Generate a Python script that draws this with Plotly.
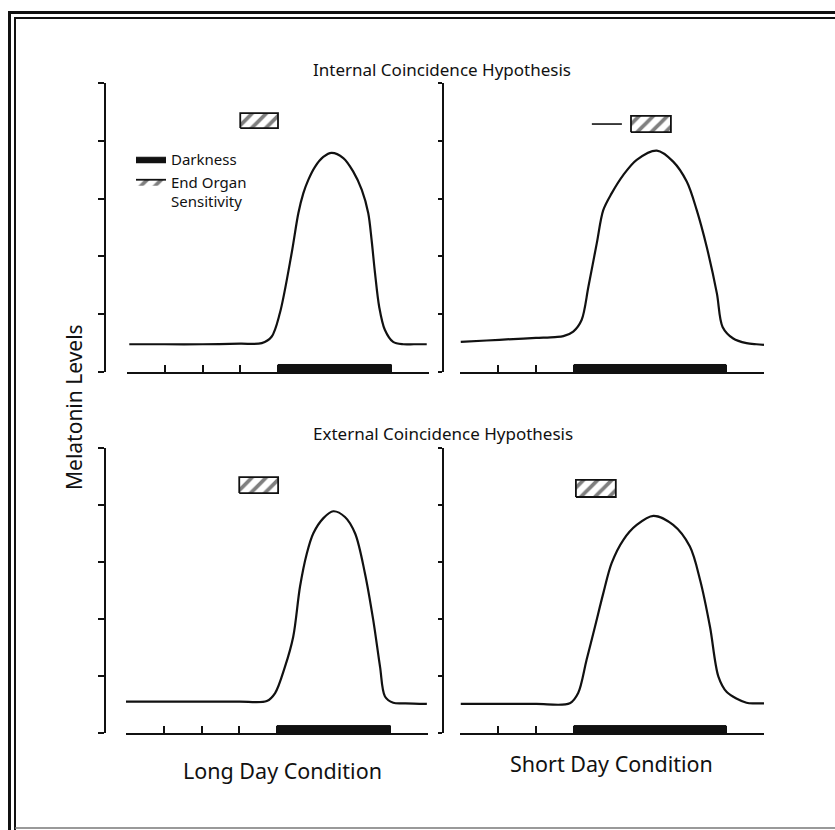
import plotly.graph_objects as go

W, H = 835, 830

# ---------------- data ----------------
time_ticks = [0, 1, 2, 3, 4, 5, 6, 7, 8]
level_ticks = [0, 1, 2, 3, 4, 5]

# Internal coincidence, long day
int_long_x = [0.06, 1.0, 2.0, 3.0, 3.57, 3.83, 4.05, 4.36, 4.54, 4.67, 4.80, 4.98, 5.20, 5.42,
              5.73, 5.99, 6.22, 6.39, 6.48, 6.57, 6.68, 6.83, 7.05, 7.32, 7.60, 7.94]
int_long_y = [0.48, 0.48, 0.48, 0.49, 0.50, 0.61, 1.02, 2.05, 2.75, 3.09, 3.32, 3.55, 3.72, 3.79,
              3.70, 3.47, 3.15, 2.75, 2.28, 1.71, 1.13, 0.73, 0.52, 0.48, 0.48, 0.48]

# Internal coincidence, short day
int_short_x = [0.02, 0.7, 1.40, 2.0, 2.5, 2.72, 2.98, 3.20, 3.38, 3.60, 3.77, 3.99, 4.30, 4.65,
               5.18, 5.61, 5.97, 6.23, 6.49, 6.76, 6.91, 7.19, 7.54, 7.80, 8.00]
int_short_y = [0.52, 0.545, 0.57, 0.59, 0.605, 0.62, 0.70, 0.90, 1.48, 2.23, 2.80, 3.09, 3.41, 3.67,
               3.83, 3.64, 3.29, 2.80, 2.17, 1.36, 0.78, 0.58, 0.50, 0.48, 0.47]

# External coincidence, long day
ext_long_x = [0.00, 1.0, 2.0, 3.0, 3.73, 3.95, 4.21, 4.43, 4.61, 4.79, 4.96, 5.23, 5.49, 5.80,
              6.07, 6.33, 6.55, 6.73, 6.86, 7.08, 7.40, 7.97]
ext_long_y = [0.55, 0.55, 0.55, 0.55, 0.56, 0.70, 1.16, 1.69, 2.57, 3.15, 3.50, 3.77, 3.89, 3.79,
              3.50, 2.80, 1.98, 1.16, 0.64, 0.53, 0.52, 0.51]

# External coincidence, short day
ext_short_x = [0.02, 1.0, 2.0, 2.89, 3.11, 3.33, 3.55, 3.77, 3.99, 4.30, 4.65, 5.09, 5.61,
               6.05, 6.32, 6.58, 6.80, 7.02, 7.54, 7.80, 8.00]
ext_short_y = [0.51, 0.51, 0.51, 0.52, 0.70, 1.28, 1.86, 2.45, 2.98, 3.39, 3.65, 3.81, 3.65,
               3.27, 2.68, 1.86, 0.99, 0.72, 0.53, 0.52, 0.52]

# Darkness periods (start, end)
dark_long = [4.0, 7.0]
dark_short = [3.0, 7.0]

# End organ sensitivity windows (x start, x end) and (level low, level high)
sens_int_long_x = [3.0, 4.0]
sens_int_long_y = [4.22, 4.48]
sens_int_short_x = [4.5, 5.55]
sens_int_short_y = [4.15, 4.43]
sens_int_short_dash_x = [3.47, 4.26]
sens_int_short_dash_y = [4.29, 4.29]
sens_ext_long_x = [3.0, 4.03]
sens_ext_long_y = [4.21, 4.49]
sens_ext_short_x = [3.05, 4.1]
sens_ext_short_y = [4.14, 4.44]

# ---------------- styling / layout ----------------
FONT = "Noto Sans"
INK = "#111111"
BAR_H = 0.13

def px(x):
    return x / W

def py(y):
    return 1 - y / H

panels = [
    dict(xa="x", ya="y", yo="y2", xd=(127, 429), yd=(83, 372), lpos=105, rpos=442, lticks=6, rticks=4),
    dict(xa="x2", ya="y3", yo="y4", xd=(460, 764), yd=(83, 372), lpos=443, rpos=782, lticks=4, rticks=6),
    dict(xa="x3", ya="y5", yo="y6", xd=(126, 428), yd=(448, 733), lpos=105, rpos=442, lticks=6, rticks=4),
    dict(xa="x4", ya="y7", yo="y8", xd=(460, 764), yd=(448, 733), lpos=443, rpos=783, lticks=4, rticks=6),
]

fig = go.Figure()

def key(axid, kind):
    n = axid[1:]
    return ("xaxis" if kind == "x" else "yaxis") + n

layout_axes = {}
for p in panels:
    xk = key(p["xa"], "x")
    yk = key(p["ya"], "y")
    ok = key(p["yo"], "y")
    layout_axes[xk] = dict(
        domain=[px(p["xd"][0]), px(p["xd"][1])], range=[0, 8], anchor=p["ya"],
        tickvals=time_ticks, ticks="inside", ticklen=7, tickwidth=1.5, tickcolor=INK,
        showticklabels=False, showline=True, linewidth=2, linecolor=INK,
        showgrid=False, zeroline=False, fixedrange=True)
    common_y = dict(range=[0, 5], tickvals=level_ticks, ticks="outside", tickwidth=2,
                    tickcolor=INK, showticklabels=False, showline=True, linewidth=2,
                    linecolor=INK, showgrid=False, zeroline=False, fixedrange=True)
    layout_axes[yk] = dict(common_y, domain=[py(p["yd"][1]), py(p["yd"][0])],
                           anchor="free", position=px(p["lpos"]), side="left",
                           ticklen=p["lticks"])
    layout_axes[ok] = dict(common_y, overlaying=p["ya"], anchor="free",
                           position=px(p["rpos"]), side="right", ticklen=p["rticks"])

curves = [
    (int_long_x, int_long_y, dark_long, sens_int_long_x, sens_int_long_y),
    (int_short_x, int_short_y, dark_short, sens_int_short_x, sens_int_short_y),
    (ext_long_x, ext_long_y, dark_long, sens_ext_long_x, sens_ext_long_y),
    (ext_short_x, ext_short_y, dark_short, sens_ext_short_x, sens_ext_short_y),
]

for i, (p, (cx, cy, dk, sx, sy)) in enumerate(zip(panels, curves)):
    first = i == 0
    # darkness bar
    fig.add_trace(go.Scatter(
        x=[dk[0], dk[1], dk[1], dk[0], dk[0]], y=[0, 0, BAR_H, BAR_H, 0],
        xaxis=p["xa"], yaxis=p["ya"], mode="lines", fill="toself",
        fillcolor=INK, line=dict(color=INK, width=1),
        name="Darkness", legendgroup="dark", showlegend=first, hoverinfo="skip"))
    # sensitivity box (hatched)
    fig.add_trace(go.Scatter(
        x=[sx[0], sx[1], sx[1], sx[0], sx[0]], y=[sy[0], sy[0], sy[1], sy[1], sy[0]],
        xaxis=p["xa"], yaxis=p["ya"], mode="lines", fill="toself",
        fillcolor="white",
        fillpattern=dict(shape="/", fgcolor="black", bgcolor="white", size=10, solidity=0.38),
        line=dict(color=INK, width=1.8),
        name="End Organ<br>Sensitivity", legendgroup="sens", showlegend=first,
        hoverinfo="skip"))
    # melatonin curve
    fig.add_trace(go.Scatter(
        x=cx, y=cy, xaxis=p["xa"], yaxis=p["ya"], mode="lines",
        line=dict(color=INK, width=2.2, shape="spline", smoothing=0.9),
        showlegend=False, hoverinfo="skip"))

# short dash preceding the sensitivity window (internal / short day)
fig.add_trace(go.Scatter(
    x=sens_int_short_dash_x, y=sens_int_short_dash_y, xaxis="x2", yaxis="y3",
    mode="lines", line=dict(color=INK, width=1.6), showlegend=False, hoverinfo="skip"))

# frame lines (paper coords)
def hline(y, x0, x1, w, c=INK):
    return dict(type="line", xref="paper", yref="paper", x0=px(x0), x1=px(x1),
                y0=py(y), y1=py(y), line=dict(color=c, width=w))

def vline(x, y0, y1, w, c=INK):
    return dict(type="line", xref="paper", yref="paper", x0=px(x), x1=px(x),
                y0=py(y0), y1=py(y1), line=dict(color=c, width=w))

shapes = [
    hline(12.5, 8, 835, 3),
    hline(18, 14, 835, 2),
    vline(9.5, 11, 830, 3),
    vline(15, 17, 830, 2),
    hline(828, 15, 835, 1.5, "#777777"),
]

annotations = [
    dict(text="Internal Coincidence Hypothesis", x=px(442), y=py(69), xref="paper",
         yref="paper", showarrow=False, font=dict(size=17, family=FONT, color=INK),
         xanchor="center", yanchor="middle"),
    dict(text="External Coincidence Hypothesis", x=px(443), y=py(433), xref="paper",
         yref="paper", showarrow=False, font=dict(size=17, family=FONT, color=INK),
         xanchor="center", yanchor="middle"),
    dict(text="Melatonin Levels", x=px(74), y=py(407), xref="paper", yref="paper",
         showarrow=False, textangle=-90, font=dict(size=21, family=FONT, color=INK),
         xanchor="center", yanchor="middle"),
    dict(text="Long Day Condition", x=px(282), y=py(770), xref="paper", yref="paper",
         showarrow=False, font=dict(size=21.5, family=FONT, color=INK),
         xanchor="center", yanchor="middle"),
    dict(text="Short Day Condition", x=px(611), y=py(763), xref="paper", yref="paper",
         showarrow=False, font=dict(size=21.5, family=FONT, color=INK),
         xanchor="center", yanchor="middle"),
]

fig.update_layout(
    width=W, height=H, margin=dict(l=0, r=0, t=0, b=0),
    paper_bgcolor="white", plot_bgcolor="white",
    font=dict(family=FONT, color=INK),
    showlegend=True,
    legend=dict(x=px(131), y=py(143), xanchor="left", yanchor="top",
                bgcolor="rgba(0,0,0,0)", font=dict(size=15, family=FONT, color=INK),
                valign="top", tracegroupgap=0, traceorder="normal", itemwidth=30),
    shapes=shapes, annotations=annotations,
    **layout_axes,
)

fig.write_html("out.html")
